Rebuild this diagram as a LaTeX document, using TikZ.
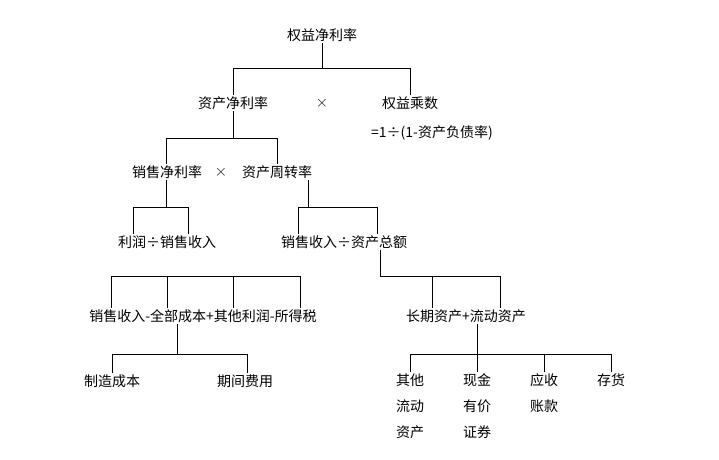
\documentclass[tikz,border=0pt]{standalone}
\usepackage{fontspec}
\newfontfamily\cjk{Noto Sans CJK SC}
\begin{document}
\begin{tikzpicture}[x=1pt,y=-1pt,
  lbl/.style={font=\cjk\fontsize{14}{16}\selectfont,inner sep=1.5pt},
  stk/.style={lbl,align=center,font=\cjk\fontsize{14}{26}\selectfont},
  tie/.style={line width=0.8pt}]
\useasboundingbox (0,0) rectangle (719,459);
% top level
\node[lbl] (roe) at (322,35) {权益净利率};
\node[lbl,font=\fontsize{17}{17}\selectfont] (mul) at (322,103) {×};
\node[lbl] (roa) at (233,103) {资产净利率};
\node[lbl] (em) at (410,103) {权益乘数};
\node[lbl] (emf) at (432,133) {=1÷(1-资产负债率)};
\draw[tie] (roe.south) -- (322,68);
\draw[tie] (233,68) -- (410,68);
\draw[tie] (233,68) -- (roa.north);
\draw[tie] (410,68) -- (em.north);
% second level
\node[lbl] (npm) at (167,172) {销售净利率};
\node[lbl,font=\fontsize{17}{17}\selectfont] (mul2) at (221,172) {×};
\node[lbl] (tat) at (277,172) {资产周转率};
\draw[tie] (roa.south) -- (233,138);
\draw[tie] (166,138) -- (277,138);
\draw[tie] (166,138) -- (166,0 |- npm.north);
\draw[tie] (277,138) -- (tat.north);
% third level
\node[lbl] (pr) at (167,242) {利润÷销售收入};
\node[lbl] (sa) at (344,242) {销售收入÷资产总额};
\draw[tie] (166,0 |- npm.south) -- (166,207);
\draw[tie] (133,207) -- (188,207);
\draw[tie] (133,207) -- (133,0 |- pr.north);
\draw[tie] (188,207) -- (188,0 |- pr.north);
\draw[tie] (308,0 |- tat.south) -- (308,207);
\draw[tie] (298,207) -- (377,207);
\draw[tie] (298,207) -- (298,0 |- sa.north);
\draw[tie] (377,207) -- (377,0 |- sa.north);
% fourth level
\node[lbl] (np) at (203,316) {销售收入-全部成本+其他利润-所得税};
\node[lbl] (ta) at (466,316) {长期资产+流动资产};
\draw[tie] (111,276) -- (300,276);
\foreach \lx in {111,167,233,300}
  \draw[tie] (\lx,276) -- (\lx,0 |- np.north);
\draw[tie] (380,0 |- sa.south) -- (380,276) -- (500,276);
\draw[tie] (432,276) -- (432,0 |- ta.north);
\draw[tie] (500,276) -- (500,0 |- ta.north);
% fifth level
\node[lbl] (mc) at (112,381) {制造成本};
\node[lbl] (pe) at (245,381) {期间费用};
\node[stk,anchor=north] (oca) at (410,372) {其他\\流动\\资产};
\node[stk,anchor=north] (cash) at (477,372) {现金\\有价\\证券};
\node[stk,anchor=north] (ar) at (544,372) {应收\\账款};
\node[stk,anchor=north] (inv) at (611,372) {存货};
\draw[tie] (177,0 |- np.south) -- (177,354);
\draw[tie] (112,354) -- (247,354);
\draw[tie] (112,354) -- (112,0 |- mc.north);
\draw[tie] (247,354) -- (247,0 |- pe.north);
\draw[tie] (477,0 |- ta.south) -- (cash.north);
\draw[tie] (410,354) -- (611,354);
\draw[tie] (410,354) -- (oca.north);
\draw[tie] (544,354) -- (ar.north);
\draw[tie] (611,354) -- (inv.north);
\end{tikzpicture}
\end{document}
